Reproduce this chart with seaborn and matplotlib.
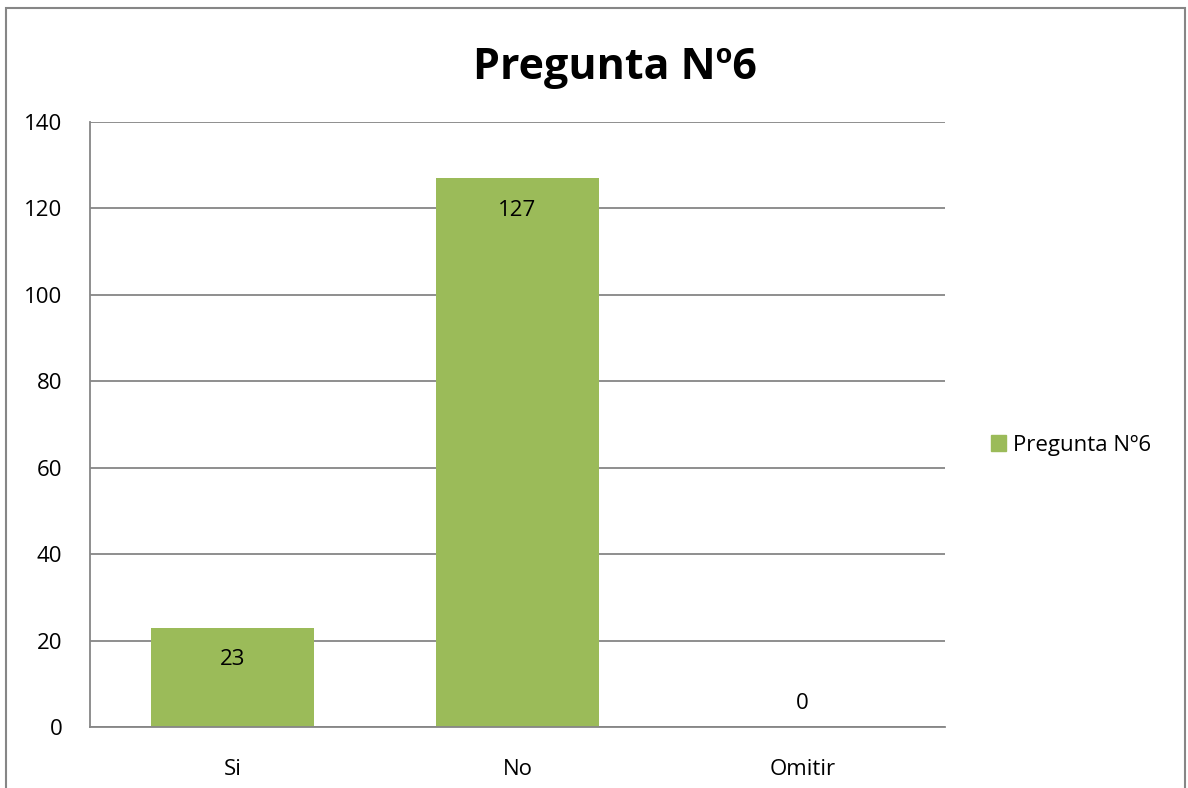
import matplotlib
matplotlib.use("Agg")
import matplotlib.pyplot as plt
import matplotlib.patches as mpatches
import seaborn as sns
import pandas as pd

# Data
categorias = ["Si", "No", "Omitir"]
valores = [23, 127, 0]
serie = "Pregunta Nº6"
titulo = "Pregunta Nº6"

df = pd.DataFrame({"respuesta": categorias, "cantidad": valores})

sns.set_style("white")
plt.rcParams["font.family"] = ["Open Sans", "DejaVu Sans"]
plt.rcParams["text.color"] = "black"

verde = "#9BBB59"
gris = "#868686"

fig = plt.figure(figsize=(11.88, 7.88), dpi=100)
ax = fig.add_axes([0.0758, 0.0774, 0.7197, 0.7678])

sns.barplot(data=df, x="respuesta", y="cantidad", color=verde, width=0.575,
            saturation=1, linewidth=0, ax=ax)

ax.set_ylim(0, 140)
ax.set_xlim(-0.5, 2.5)
ax.set_yticks(range(0, 141, 20))
ax.yaxis.grid(True, color=gris, linewidth=1.3)
ax.set_axisbelow(True)
ax.set_xlabel("")
ax.set_ylabel("")
for s in ["top", "right"]:
    ax.spines[s].set_visible(False)
for s in ["left", "bottom"]:
    ax.spines[s].set_color(gris)
    ax.spines[s].set_linewidth(1.3)
ax.tick_params(axis="both", length=0, labelsize=16, colors="black")
ax.tick_params(axis="y", pad=20)
ax.tick_params(axis="x", pad=23)

# data labels (inside end, zero above baseline)
for i, v in enumerate(valores):
    if v > 0:
        ax.annotate(str(v), (i, v), xytext=(0, -23), textcoords="offset points",
                    ha="center", va="center", fontsize=16, color="black")
    else:
        ax.annotate(str(v), (i, v), xytext=(0, 17), textcoords="offset points",
                    ha="center", va="center", fontsize=16, color="black")

fig.text(0.5177, 0.914, titulo, ha="center", va="center", fontsize=31,
         fontweight="bold", color="black")

handle = mpatches.Patch(color=verde, label=serie)
leg = fig.legend(handles=[handle], loc="center left", bbox_to_anchor=(0.817, 0.435),
                 frameon=False, fontsize=16, handlelength=0.7, handleheight=0.7,
                 handletextpad=0.3)
for t in leg.get_texts():
    t.set_color("black")

# outer chart border
border = mpatches.Rectangle((6 / 1188, -0.02), (1185 - 6) / 1188, 1.02 - 8 / 788,
                            transform=fig.transFigure, fill=False,
                            edgecolor=gris, linewidth=1.5)
fig.patches.append(border)

fig.savefig("out.png", dpi=100)
